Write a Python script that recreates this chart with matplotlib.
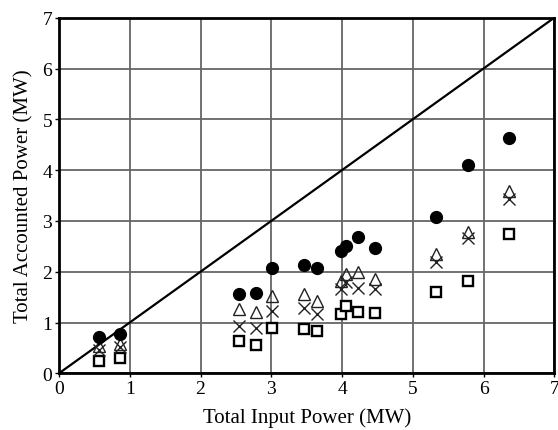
import matplotlib
matplotlib.use("Agg")
import matplotlib.pyplot as plt

plt.rcParams['font.family'] = ['Liberation Serif', 'DejaVu Serif']

input_power = [0.565, 0.862, 2.54, 2.78, 3.01, 3.46, 3.64, 3.98, 4.05, 4.22, 4.47, 5.33, 5.775, 6.355]
circle_vals = [0.72, 0.77, 1.56, 1.59, 2.07, 2.14, 2.07, 2.40, 2.50, 2.69, 2.46, 3.07, 4.11, 4.63]
triangle_vals = [0.53, 0.58, 1.27, 1.21, 1.53, 1.56, 1.42, 1.82, 1.95, 1.99, 1.86, 2.35, 2.78, 3.58]
cross_vals = [0.46, 0.52, 0.94, 0.89, 1.23, 1.28, 1.17, 1.66, 1.79, 1.67, 1.65, 2.20, 2.66, 3.44]
square_vals = [0.25, 0.30, 0.63, 0.56, 0.90, 0.87, 0.84, 1.17, 1.33, 1.21, 1.19, 1.61, 1.82, 2.74]
ticks = [0, 1, 2, 3, 4, 5, 6, 7]

fig = plt.figure(figsize=(5.58, 4.31), dpi=100)
ax = fig.add_axes([59/558, 1-374.3/431, (554.3-59)/558, (374.3-18.7)/431])

ax.plot([0, 7], [0, 7], color='black', lw=1.6, zorder=2)
ax.plot(input_power, square_vals, ls='none', marker='s', ms=7.5, mfc='white', mec='black', mew=1.7, zorder=3)
ax.plot(input_power, cross_vals, ls='none', marker='x', ms=8, color='#222222', mew=1.0, zorder=4)
ax.plot(input_power, triangle_vals, ls='none', marker='^', ms=8, mfc='none', mec='#222222', mew=1.0, zorder=5)
ax.plot(input_power, circle_vals, ls='none', marker='o', ms=8.5, color='black', zorder=6)

ax.set_xlim(0, 7)
ax.set_ylim(0, 7)
ax.set_xticks(ticks)
ax.set_yticks(ticks)
ax.grid(True, color='#666666', lw=1.3)
ax.set_axisbelow(True)
for s in ax.spines.values():
    s.set_linewidth(2)
    s.set_color('black')
ax.tick_params(direction='out', length=3, width=1, labelsize=14, pad=2)
ax.set_xlabel('Total Input Power (MW)', fontsize=15, labelpad=7)
ax.set_ylabel('Total Accounted Power (MW)', fontsize=15, labelpad=6)

fig.savefig('out.png', dpi=100)
